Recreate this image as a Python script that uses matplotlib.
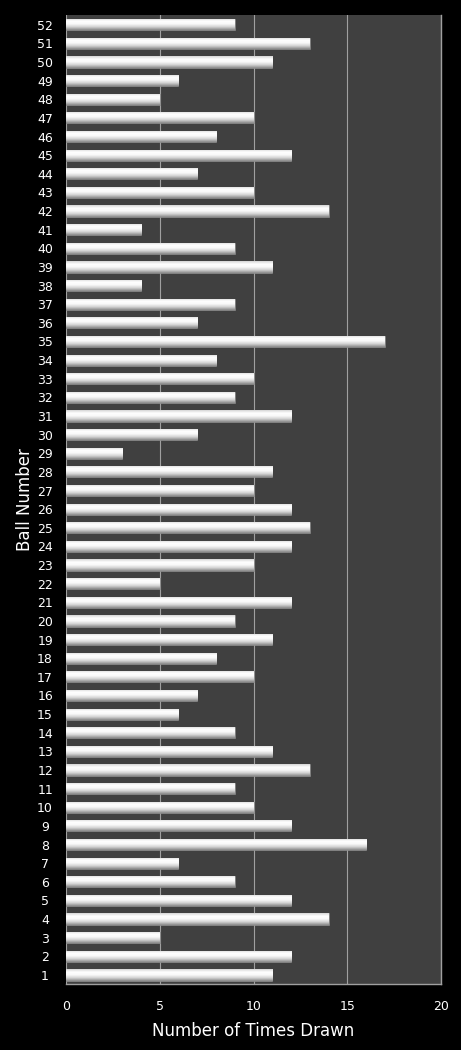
import numpy as np
import matplotlib
matplotlib.use("Agg")
import matplotlib.pyplot as plt
from matplotlib.colors import LinearSegmentedColormap

balls = list(range(1, 53))
times_drawn = [11, 12, 5, 14, 12, 9, 6, 16, 12, 10,
               9, 13, 11, 9, 6, 7, 10, 8, 11, 9,
               12, 5, 10, 12, 13, 12, 10, 11, 3, 7,
               12, 9, 10, 8, 17, 7, 9, 4, 11, 9,
               4, 14, 10, 7, 12, 8, 10, 5, 6, 11,
               13, 9]

BG = "#000000"
PLOT_BG = "#404040"
GRID = "#a0a0a0"

fig = plt.figure(figsize=(4.61, 10.5), dpi=100, facecolor=BG)
ax = fig.add_axes([0.143, 0.0626, 0.814, 0.9227])
ax.set_facecolor(PLOT_BG)

bar_h = 0.6
bars = ax.barh(balls, times_drawn, height=bar_h, color="#e8e8e8",
               edgecolor="#7a7a7a", linewidth=0.5, zorder=3)

# cylinder-like shading on each bar
shade = LinearSegmentedColormap.from_list(
    "shade", ["#8a8a8a", "#d0d0d0", "#f8f8f8", "#ffffff", "#d6d6d6"])
grad = np.linspace(0, 1, 64).reshape(-1, 1)
for b in bars:
    x0, y0 = b.get_x(), b.get_y()
    im = ax.imshow(grad, cmap=shade, aspect="auto", origin="lower",
                   extent=[x0, x0 + b.get_width(), y0, y0 + b.get_height()],
                   zorder=4)
    im.set_clip_path(b)

ax.set_xlim(0, 20)
ax.set_ylim(0.5, 52.5)
ax.set_xticks([0, 5, 10, 15, 20])
ax.set_yticks(balls)
ax.xaxis.grid(True, color=GRID, linewidth=0.8, zorder=1)
ax.set_axisbelow(True)

for side in ["top", "left"]:
    ax.spines[side].set_visible(False)
for side in ["right", "bottom"]:
    ax.spines[side].set_color(GRID)
    ax.spines[side].set_linewidth(1.0)

ax.tick_params(axis="both", colors="white", labelsize=9, length=0)
ax.tick_params(axis="y", pad=15)
ax.tick_params(axis="x", pad=11)
for lbl in ax.get_yticklabels():
    lbl.set_horizontalalignment("center")

ax.set_xlabel("Number of Times Drawn", color="white", fontsize=12, labelpad=7)
ax.set_ylabel("Ball Number", color="white", fontsize=12, labelpad=2)

fig.savefig("out.png", dpi=100, facecolor=BG)
